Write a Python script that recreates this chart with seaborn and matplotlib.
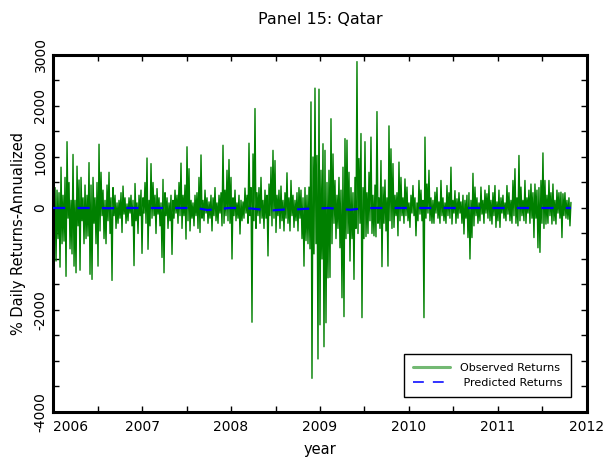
import numpy as np
import pandas as pd
import matplotlib
matplotlib.use("Agg")
import matplotlib.pyplot as plt
from matplotlib.lines import Line2D
import seaborn as sns

# Qatar daily returns (annualised, %), sampled evenly from start of 2006 to late 2011
observed = [
    750, -250, 400, -1040, 350, -600, 300, -1160, 800, -700,
    250, -650, 600, -1340, 1300, -200, 500, -800, 150, -900,
    1050, -1140, 150, -1270, 820, -350, 550, -1220, 600, -250,
    200, -700, 450, -600, 250, -550, 890, -1300, 450, -1400,
    600, -300, 200, -700, 500, -1140, 1250, -450, 700, -150,
    350, -600, 150, -700, 450, -250, 700, -500, 200, -1420,
    400, -150, 250, -400, 100, -300, 150, -200, 300, -480,
    430, -120, 200, -300, 80, -250, 200, -100, 250, -350,
    150, -1130, 480, -250, 100, -500, 250, -150, 350, -890,
    200, -100, 500, -300, 980, -810, 150, -350, 870, -200,
    500, -150, 250, -500, 380, -120, 200, -350, 100, -970,
    560, -1270, 300, -150, 200, -400, 100, -250, 250, -910,
    150, -200, 350, -100, 250, -300, 500, -150, 880, -400,
    250, -150, 450, -610, 1200, -250, 770, -450, 150, -200,
    100, -350, 250, -150, 300, -400, 600, -480, 1040, -200,
    150, -250, 350, -100, 200, -300, 120, -200, 250, -450,
    200, -150, 400, -250, 100, -300, 250, -100, 300, -350,
    1230, -300, 350, -150, 740, -250, 950, -300, 600, -1000,
    200, -150, 350, -250, 100, -200, 250, -510, 150, -250,
    120, -200, 390, -100, 250, -300, 1270, -150, 400, -2240,
    1060, -250, 1950, -400, 300, -150, 400, -300, 600, -200,
    150, -400, 350, -200, 250, -940, 470, -150, 800, -350,
    1130, -200, 930, -480, 250, -150, 350, -400, 430, -250,
    150, -450, 300, -200, 690, -300, 200, -450, 540, -150,
    250, -380, 150, -250, 300, -450, 400, -200, 350, -600,
    200, -1140, 400, -640, 250, -700, 410, -800, 2080, -3340,
    1000, -900, 2350, -700, 1030, -2960, 2330, -2290, 740, -1000,
    1260, -2720, 1130, -2250, 500, -1370, 740, -1360, 1750, -700,
    1060, -300, 540, -600, 250, -400, 600, -780, 350, -1760,
    800, -2130, 1360, -600, 1330, -500, 700, -1040, 400, -600,
    300, -1400, 600, -400, 2870, -500, 970, -300, 1460, -2150,
    400, -600, 1300, -560, 300, -500, 700, -250, 1390, -500,
    250, -545, 450, -565, 1890, -300, 200, -400, 930, -1150,
    410, -300, 550, -450, 200, -1140, 1610, -250, 1160, -400,
    870, -380, 250, -150, 300, -545, 900, -250, 600, -150,
    200, -300, 570, -150, 410, -250, 100, -380, 250, -100,
    440, -150, 200, -545, 100, -250, 540, -120, 350, -250,
    150, -2150, 1390, -200, 470, -100, 740, -250, 200, -300,
    150, -300, 310, -100, 400, -200, 120, -300, 540, -150,
    200, -250, 100, -300, 440, -150, 300, -200, 800, -315,
    150, -100, 340, -300, 180, -200, 300, -100, 120, -300,
    250, -510, 150, -200, 250, -580, 300, -1000, 150, -580,
    680, -350, 410, -150, 200, -300, 100, -250, 410, -120,
    150, -300, 350, -100, 280, -200, 440, -250, 150, -315,
    300, -150, 440, -380, 120, -250, 350, -380, 200, -100,
    250, -200, 100, -250, 440, -120, 300, -250, 150, -300,
    540, -150, 770, -300, 200, -350, 1030, -250, 410, -150,
    150, -250, 540, -300, 200, -100, 350, -300, 470, -200,
    300, -580, 470, -200, 350, -780, 400, -870, 540, -300,
    1080, -400, 540, -315, 250, -300, 540, -150, 300, -315,
    470, -250, 150, -315, 350, -100, 300, -200, 310, -580,
    280, -150, 300, -200, 150, -220, 200, -350, 110,
]

# Model-predicted returns, sampled on a coarser grid over the same period
predicted = [
    0, 0, 0, 0, 0, -5, 0, 0, 0, 0,
    0, 0, 0, 0, -40, -20, 0, 0, -10, -35,
    -45, -30, -30, -15, -10, 0, -20, -35, -10, 0,
    0, 0, 0, 0, 0, 0, 0, 0, 0, 0,
    0, 0, 0, 0, 0, 0, 0, 0,
]

start_year, end_year = 2006.0, 2011.82
obs_df = pd.DataFrame({
    "year": np.linspace(start_year, end_year, len(observed)),
    "ret": observed,
})
pred_df = pd.DataFrame({
    "year": np.linspace(start_year, end_year, len(predicted)),
    "ret": predicted,
})

year_ticks = [2006, 2007, 2008, 2009, 2010, 2011, 2012]
year_labels = ["2006", "2007", "2008", "2009", "2010", "2011", "2012"]
half_year_ticks = [2006.5, 2007.5, 2008.5, 2009.5, 2010.5, 2011.5]
ret_ticks = list(range(-4000, 3001, 500))
ret_labels = ["-4000", "", "", "", "-2000", "", "", "", "0", "", "1000", "", "2000", "", "3000"]

sns.set_style("ticks")
plt.rcParams["font.family"] = ["DejaVu Sans"]
plt.rcParams.update({
    "text.color": "black",
    "axes.labelcolor": "black",
    "xtick.color": "black",
    "ytick.color": "black",
})

fig = plt.figure(figsize=(6.06, 4.66), dpi=100)
ax = fig.add_axes([0.0875, 0.1159, 0.8811, 0.7661])

sns.lineplot(data=obs_df, x="year", y="ret", ax=ax, color="#008000",
             linewidth=1.0, estimator=None, sort=False, zorder=2)
sns.lineplot(data=pred_df, x="year", y="ret", ax=ax, color="#0000ff",
             linewidth=1.6, estimator=None, sort=False, zorder=3,
             linestyle=(0, (5.5, 5.5)))

ax.set_xlim(2006, 2012)
ax.set_ylim(-4000, 3000)

ax.set_xticks(year_ticks)
ax.set_xticklabels(year_labels, fontsize=10)
ax.set_xticks(half_year_ticks, minor=True)
xl = ax.get_xticklabels()
xl[0].set_horizontalalignment("left")

ax.set_yticks(ret_ticks)
ax.set_yticklabels(ret_labels, fontsize=10, rotation=90, va="center")

ax.tick_params(axis="both", which="both", direction="in", length=4, width=1,
               top=True, right=True, color="black", labelcolor="black")
ax.tick_params(axis="x", which="major", pad=6)
ax.tick_params(axis="y", which="major", pad=4)

for side in ax.spines.values():
    side.set_linewidth(2.2)
    side.set_color("black")

ax.set_xlabel("year", fontsize=10.5, color="black")
ax.set_ylabel("% Daily Returns-Annualized", fontsize=10.5, color="black")
ax.xaxis.set_label_coords(0.5, -0.085)
ax.yaxis.set_label_coords(-0.05, 0.5)
ax.set_title("Panel 15: Qatar", fontsize=11.5, pad=22, color="black")

handles = [
    Line2D([], [], color="#008000", alpha=0.55, linewidth=2.2),
    Line2D([], [], color="#2222ff", linewidth=1.3, linestyle=(0, (6, 5))),
]
leg = ax.legend(handles, ["Observed Returns", " Predicted Returns"],
                loc="lower right", bbox_to_anchor=(0.970, 0.042),
                borderaxespad=0.0,
                fontsize=8, frameon=True, fancybox=False, framealpha=1,
                edgecolor="black", handlelength=3.3, borderpad=0.8,
                labelspacing=0.45, handletextpad=0.9)
leg.get_frame().set_linewidth(1.0)
for t in leg.get_texts():
    t.set_color("black")

fig.savefig("out.png", dpi=100)
